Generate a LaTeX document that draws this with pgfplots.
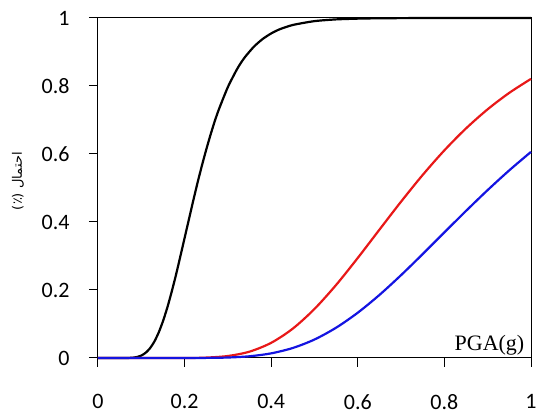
\documentclass[border=0pt]{standalone}
\usepackage{fontspec}
\setmainfont{Carlito}
\newfontfamily\serifpga{Liberation Serif}
\newfontfamily\arabicfont[Script=Arabic]{DejaVu Sans}
\TeXXeTstate=1
\usepackage{pgfplots}
\pgfplotsset{compat=1.18}
\definecolor{cred}{RGB}{232,24,24}
\definecolor{cblue}{RGB}{20,20,225}
\begin{document}
\begin{tikzpicture}
\begin{axis}[
  scale only axis,
  width=433pt, height=340pt,
  xmin=0, xmax=1, ymin=0, ymax=1,
  xtick={0,0.2,0.4,0.6,0.8,1},
  ytick={0,0.2,0.4,0.6,0.8,1},
  xticklabels={0,0.2,0.4,0.6,0.8,1},
  yticklabels={0,0.2,0.4,0.6,0.8,1},
  tick align=outside,
  xtick pos=bottom, ytick pos=left,
  major tick length=9pt,
  axis line style={line width=1pt},
  every tick/.style={black, line width=1pt},
  /pgf/number format/assume math mode=true,
  tick label style={font=\fontsize{22}{26}\selectfont},
  xticklabel style={yshift=-24pt},
  yticklabel style={xshift=-16pt},
  clip=false,
]
\addplot[black, line width=2.2pt, smooth, tension=0.4] coordinates {
(0,0) (0.06,0) (0.07,0.0002) (0.08,0.0009) (0.09,0.0029) (0.10,0.0072) (0.11,0.0153)
(0.12,0.0285) (0.13,0.048) (0.14,0.0745) (0.15,0.108) (0.16,0.148) (0.17,0.194)
(0.18,0.244) (0.19,0.298) (0.20,0.353) (0.21,0.408) (0.22,0.463) (0.23,0.516)
(0.24,0.566) (0.25,0.613) (0.26,0.657) (0.27,0.698) (0.28,0.734) (0.30,0.797)
(0.32,0.847) (0.33,0.868) (0.34,0.886) (0.36,0.9156) (0.38,0.938) (0.40,0.9546)
(0.42,0.967) (0.45,0.9795) (0.50,0.9908) (0.55,0.9959) (0.60,0.9981) (0.65,0.9992)
(0.70,0.9996) (0.80,1) (1,1)
};
\addplot[cred, line width=2.2pt, smooth, tension=0.5] coordinates {
(0,0) (0.2,0.0001) (0.25,0.0012) (0.3,0.0059) (0.35,0.0187) (0.4,0.0447)
(0.45,0.0865) (0.5,0.1443) (0.55,0.215) (0.6,0.2944) (0.65,0.3775) (0.7,0.460)
(0.75,0.5386) (0.8,0.6108) (0.85,0.6753) (0.9,0.7316) (0.95,0.780) (1.0,0.8209)
};
\addplot[cblue, line width=2.2pt, smooth, tension=0.5] coordinates {
(0,0) (0.2,0) (0.25,0.0003) (0.3,0.0014) (0.35,0.0051) (0.4,0.0137) (0.45,0.0295)
(0.5,0.0544) (0.55,0.0892) (0.6,0.1333) (0.65,0.1855) (0.7,0.2438) (0.75,0.3058)
(0.8,0.3695) (0.85,0.4327) (0.9,0.494) (0.95,0.5521) (1.0,0.6063)
};
\node[anchor=south east, inner sep=0pt, font=\serifpga\fontsize{22}{26}\selectfont] at (rel axis cs:0.985,0) [yshift=3pt] {PGA(g)};
\node[rotate=90, anchor=center, inner sep=0pt, font=\arabicfont\fontsize{13}{15}\selectfont] at (axis description cs:-0.185,0.52) {\beginR احتمال (٪)\endR};
\end{axis}
\pgfresetboundingbox
\path[use as bounding box] ([shift={(-98pt,-56pt)}]current axis.south west) rectangle ([shift={(440pt,358pt)}]current axis.south west);
\end{tikzpicture}
\end{document}
